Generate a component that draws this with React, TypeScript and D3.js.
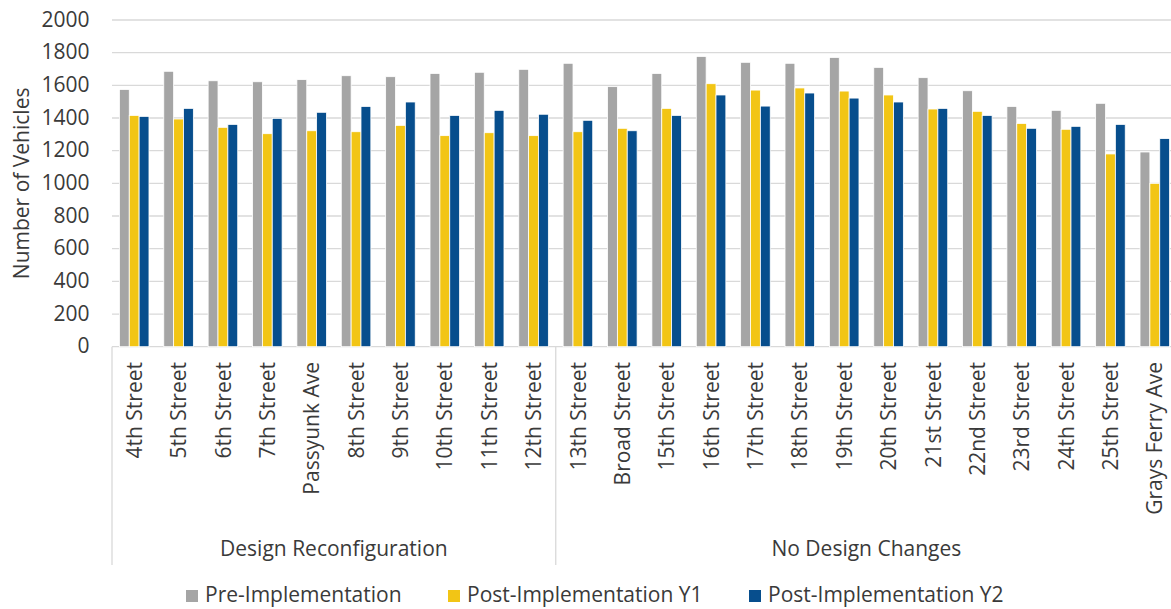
import React from "react";
import * as d3 from "d3";

const categories = [
  "4th Street", "5th Street", "6th Street", "7th Street", "Passyunk Ave",
  "8th Street", "9th Street", "10th Street", "11th Street", "12th Street",
  "13th Street", "Broad Street", "15th Street", "16th Street", "17th Street",
  "18th Street", "19th Street", "20th Street", "21st Street", "22nd Street",
  "23rd Street", "24th Street", "25th Street", "Grays Ferry Ave",
];
const groups = [
  { name: "Design Reconfiguration", count: 10 },
  { name: "No Design Changes", count: 14 },
];
const seriesNames = ["Pre-Implementation", "Post-Implementation Y1", "Post-Implementation Y2"];
const preImpl = [1575, 1686, 1628, 1622, 1635, 1659, 1653, 1673, 1680, 1698, 1735, 1592, 1673, 1777, 1741, 1735, 1771, 1710, 1647, 1567, 1471, 1447, 1490, 1192];
const postY1 = [1416, 1394, 1343, 1304, 1322, 1316, 1355, 1292, 1310, 1292, 1316, 1337, 1459, 1610, 1571, 1584, 1565, 1541, 1455, 1441, 1367, 1331, 1180, 1000];
const postY2 = [1410, 1459, 1361, 1398, 1435, 1471, 1498, 1416, 1447, 1423, 1386, 1322, 1416, 1541, 1473, 1553, 1522, 1498, 1459, 1416, 1337, 1349, 1361, 1274];
const yTicks = [0, 200, 400, 600, 800, 1000, 1200, 1400, 1600, 1800, 2000];
const colors = ["#a5a5a5", "#f2c515", "#074e8d"];

const W = 1171;
const H = 609;
const FONT = "'Open Sans', sans-serif";
const TEXT = "#3a3a3a";

export default function App() {
  const seriesValues = [preImpl, postY1, postY2];
  const x0 = d3.scaleBand<string>().domain(categories).range([112, 1177]).paddingInner(0).paddingOuter(0);
  const step = x0.step();
  const groupW = step / 1.5;
  const off = (step - groupW) / 2;
  const x1 = d3.scaleBand<string>().domain(seriesNames).range([off, off + groupW]).padding(0);
  const y = d3.scaleLinear().domain([0, 2000]).range([346.7, 20]);
  const left = x0.range()[0];
  const right = x0.range()[1];
  const axisY = y(0);

  // group boundaries
  let acc = 0;
  const groupBounds = groups.map((g) => {
    const start = x0(categories[acc])!;
    const end = start + g.count * step;
    acc += g.count;
    return { ...g, start, end };
  });

  const legendX = [186, 448, 749];

  return (
    <svg
      width={W}
      height={H}
      style={{ position: "absolute", left: 0, top: 0, background: "#fff" }}
      fontFamily={FONT}
    >
      {/* gridlines */}
      {yTicks.map((t) => (
        <line key={t} x1={left} x2={right} y1={y(t)} y2={y(t)} stroke="#d9d9d9" strokeWidth={1.3} />
      ))}
      {/* y tick labels */}
      {yTicks.map((t) => (
        <text key={"l" + t} x={89.5} y={y(t)} dy="0.32em" textAnchor="end" fontSize={21} fill={TEXT}>
          {t}
        </text>
      ))}
      {/* y axis title */}
      <text
        transform={`translate(29,${(y(0) + y(2000)) / 2}) rotate(-90)`}
        textAnchor="middle"
        fontSize={21}
        fill={TEXT}
      >
        Number of Vehicles
      </text>
      {/* bars */}
      {categories.map((c, i) => (
        <g key={c} transform={`translate(${x0(c)},0)`}>
          {seriesNames.map((s, j) => {
            const v = seriesValues[j][i];
            return (
              <rect
                key={s}
                x={x1(s)}
                y={y(v)}
                width={x1.bandwidth()}
                height={axisY - y(v)}
                fill={colors[j]}
                stroke="#ffffff"
                strokeWidth={0.8}
              />
            );
          })}
        </g>
      ))}
      {/* group divider lines */}
      {groupBounds.map((g, k) => (
        <g key={g.name}>
          <line x1={g.start} x2={g.start} y1={axisY} y2={565} stroke="#d9d9d9" strokeWidth={1.3} />
          {k === groupBounds.length - 1 && (
            <line x1={g.end} x2={g.end} y1={axisY} y2={565} stroke="#d9d9d9" strokeWidth={1.3} />
          )}
          <text x={(g.start + g.end) / 2} y={556} textAnchor="middle" fontSize={21} fill={TEXT}>
            {g.name}
          </text>
        </g>
      ))}
      {/* category labels */}
      {categories.map((c) => (
        <text
          key={"c" + c}
          transform={`translate(${x0(c)! + step / 2},362) rotate(-90)`}
          dy="0.36em"
          textAnchor="end"
          fontSize={21}
          fill={TEXT}
        >
          {c}
        </text>
      ))}
      {/* legend */}
      {seriesNames.map((s, j) => (
        <g key={"lg" + s} transform={`translate(${legendX[j]},0)`}>
          <rect x={0} y={590} width={12} height={12} fill={colors[j]} />
          <text x={19} y={601.5} fontSize={21} fill={TEXT}>
            {s}
          </text>
        </g>
      ))}
    </svg>
  );
}
